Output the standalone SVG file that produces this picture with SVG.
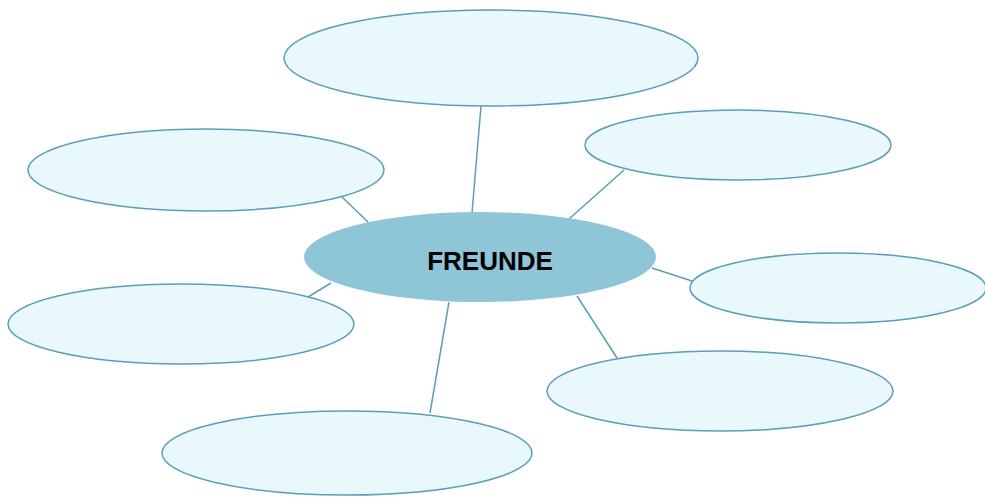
<svg xmlns="http://www.w3.org/2000/svg" width="985" height="497" viewBox="0 0 985 497">
<style>
.leaf{fill:#e9f8fd;stroke:#5a9fb6;stroke-width:1.5}
.conn line{stroke:#5a9fb6;stroke-width:1.5}
.hub{fill:#8ec5d7}
.lbl{font-family:"Liberation Sans",Arial,sans-serif;font-weight:bold;font-size:26px;fill:#000}
</style>
<rect width="985" height="497" fill="#fff"/>
<g id="connectors" class="conn">
<line x1="481" y1="106" x2="472" y2="213"/>
<line x1="342" y1="197" x2="368" y2="222"/>
<line x1="624" y1="170" x2="569" y2="219"/>
<line x1="652" y1="268" x2="692" y2="281"/>
<line x1="331" y1="283" x2="308" y2="297"/>
<line x1="449" y1="302" x2="430" y2="413"/>
<line x1="577" y1="296" x2="617" y2="358"/>
</g>
<g id="node-top"><ellipse class="leaf" cx="491" cy="58" rx="207" ry="48"/></g>
<g id="node-upper-left"><ellipse class="leaf" cx="206" cy="170" rx="178" ry="41"/></g>
<g id="node-upper-right"><ellipse class="leaf" cx="738" cy="145" rx="153" ry="35"/></g>
<g id="node-right"><ellipse class="leaf" cx="838" cy="288" rx="148" ry="35"/></g>
<g id="node-lower-left"><ellipse class="leaf" cx="181" cy="324" rx="173" ry="40"/></g>
<g id="node-lower-right"><ellipse class="leaf" cx="720" cy="391" rx="173" ry="40"/></g>
<g id="node-bottom"><ellipse class="leaf" cx="347" cy="453" rx="185" ry="42"/></g>
<g id="node-center"><ellipse class="hub" cx="480" cy="257" rx="176" ry="45"/>
<text class="lbl" x="490" y="270" text-anchor="middle">FREUNDE</text></g>
</svg>
